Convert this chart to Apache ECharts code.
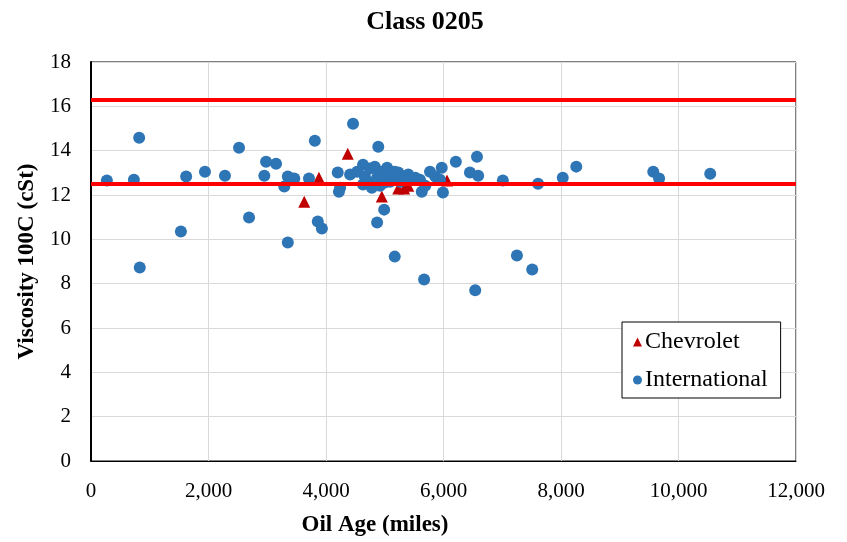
<!DOCTYPE html>
<html>
<head>
<meta charset="utf-8">
<script src="https://cdn.jsdelivr.net/npm/echarts@6/dist/echarts.min.js"></script>
<style>
  html, body { margin: 0; padding: 0; background: #fff; }
  #chart { width: 847px; height: 542px; }
</style>
</head>
<body>
<div id="chart"></div>
<script>
// Oil age (miles) and kinematic viscosity at 100C (cSt) per engine make
const intlMiles = [270, 730, 820, 830, 1530, 1620, 1940, 2280, 2520, 2690,
  2950, 2980, 3150, 3290, 3350, 3460, 3350, 3710, 3810, 3860,
  3930, 4200, 4220, 4240, 4460, 4890, 4870, 4990, 5170, 5670,
  6540, 7250, 7510,
  4410, 4530, 4630, 4660, 4630, 4720, 4750, 4780, 4830, 4870,
  4920, 4920, 4970, 5000, 5040, 5090, 5120, 5170, 5230, 5260,
  5310, 5400, 5460, 5520, 5600, 5630, 5690, 5770, 5860, 5940,
  5970, 5990, 6210, 6450, 6570, 6590, 7010, 7610, 8030, 8260,
  9570, 9670, 10540];
const intlVisc = [12.65, 12.69, 14.58, 8.73, 10.35, 12.83, 13.05, 12.87, 14.13, 10.98,
  12.87, 13.50, 13.41, 12.38, 12.83, 12.74, 9.86, 12.74, 14.45, 10.80,
  10.49, 13.01, 12.15, 12.33, 15.21, 14.18, 10.76, 11.34, 9.22, 8.19,
  7.70, 9.27, 8.64,
  12.92, 13.05, 13.37, 12.83, 12.47, 12.60, 13.19, 12.33, 13.28, 12.78,
  13.05, 12.42, 12.83, 12.56, 13.23, 12.60, 12.87, 13.05, 13.01, 12.60,
  12.83, 12.92, 12.69, 12.78, 12.69, 12.15, 12.42, 13.05, 12.83, 12.69,
  13.23, 12.11, 13.50, 13.01, 13.73, 12.87, 12.65, 12.51, 12.78, 13.28,
  13.05, 12.74, 12.96];

const chevMiles = [3630, 3880, 4370, 4950, 5230, 5330, 5400, 6060];
const chevVisc = [11.70, 12.78, 13.86, 11.93, 12.29, 12.29, 12.42, 12.65];

// Viscosity grade limits (upper / lower)
const limits = [16.3, 12.5];

const xTicks = { min: 0, max: 12000, interval: 2000 };
const yTicks = { min: 0, max: 18, interval: 2 };

const pairs = (xs, ys) => xs.map((x, i) => [x, ys[i]]);
const serif = '"Liberation Serif", "Times New Roman", serif';

const chart = echarts.init(document.getElementById('chart'), null, { renderer: 'canvas' });
chart.setOption({
  animation: false,
  backgroundColor: '#ffffff',
  title: {
    text: 'Class 0205',
    left: 420, top: 4, textAlign: 'center',
    textStyle: { fontFamily: serif, fontSize: 26, fontWeight: 'bold', color: '#000' }
  },
  grid: {
    left: 91, top: 62, right: 51, bottom: 80,
    show: true, borderColor: '#000', borderWidth: 1, backgroundColor: '#fff'
  },
  legend: {
    orient: 'vertical',
    left: 622, top: 322,
    data: [
      { name: 'Chevrolet', icon: 'triangle' },
      { name: 'International', icon: 'circle' }
    ],
    itemWidth: 9, itemHeight: 9, itemGap: 14,
    padding: [8, 13, 6, 11],
    borderColor: '#000', borderWidth: 1, backgroundColor: '#fff',
    textStyle: { fontFamily: serif, fontSize: 24, color: '#000', lineHeight: 24, padding: [0, 0, 0, -2] }
  },
  xAxis: {
    type: 'value', min: xTicks.min, max: xTicks.max, interval: xTicks.interval,
    name: 'Oil Age (miles)', nameLocation: 'middle', nameGap: 53,
    nameTextStyle: { fontFamily: serif, fontSize: 23, fontWeight: 'bold', color: '#000', padding: [0, 137, 0, 0] },
    axisLine: { show: true, lineStyle: { color: '#000', width: 1 } },
    axisTick: { show: false },
    splitLine: { show: true, lineStyle: { color: '#d9d9d9', width: 1 } },
    axisLabel: {
      fontFamily: serif, fontSize: 21, color: '#000', margin: 20,
      formatter: v => v.toLocaleString('en-US')
    }
  },
  yAxis: {
    type: 'value', min: yTicks.min, max: yTicks.max, interval: yTicks.interval,
    name: 'Viscosity 100C (cSt)', nameLocation: 'middle', nameGap: 52, nameRotate: 90,
    nameTextStyle: { fontFamily: serif, fontSize: 23, fontWeight: 'bold', color: '#000' },
    axisLine: { show: true, lineStyle: { color: '#000', width: 2 } },
    axisTick: { show: false },
    splitLine: { show: true, lineStyle: { color: '#d9d9d9', width: 1 } },
    axisLabel: { fontFamily: serif, fontSize: 21, color: '#000', margin: 20 }
  },
  series: [
    {
      name: 'limits',
      type: 'scatter',
      data: [],
      z: 1,
      silent: true,
      markLine: {
        silent: true,
        symbol: ['none', 'none'],
        label: { show: false },
        lineStyle: { color: '#ff0000', width: 4, type: 'solid' },
        data: limits.map(v => ({ yAxis: v }))
      }
    },
    {
      name: 'Chevrolet',
      type: 'scatter',
      symbol: 'triangle',
      symbolSize: 12,
      z: 2,
      itemStyle: { color: '#c00000', opacity: 1 },
      data: pairs(chevMiles, chevVisc)
    },
    {
      name: 'International',
      type: 'scatter',
      symbol: 'circle',
      symbolSize: 12,
      z: 3,
      itemStyle: { color: '#2e75b6', opacity: 1 },
      data: pairs(intlMiles, intlVisc)
    }
  ]
});
</script>
</body>
</html>
